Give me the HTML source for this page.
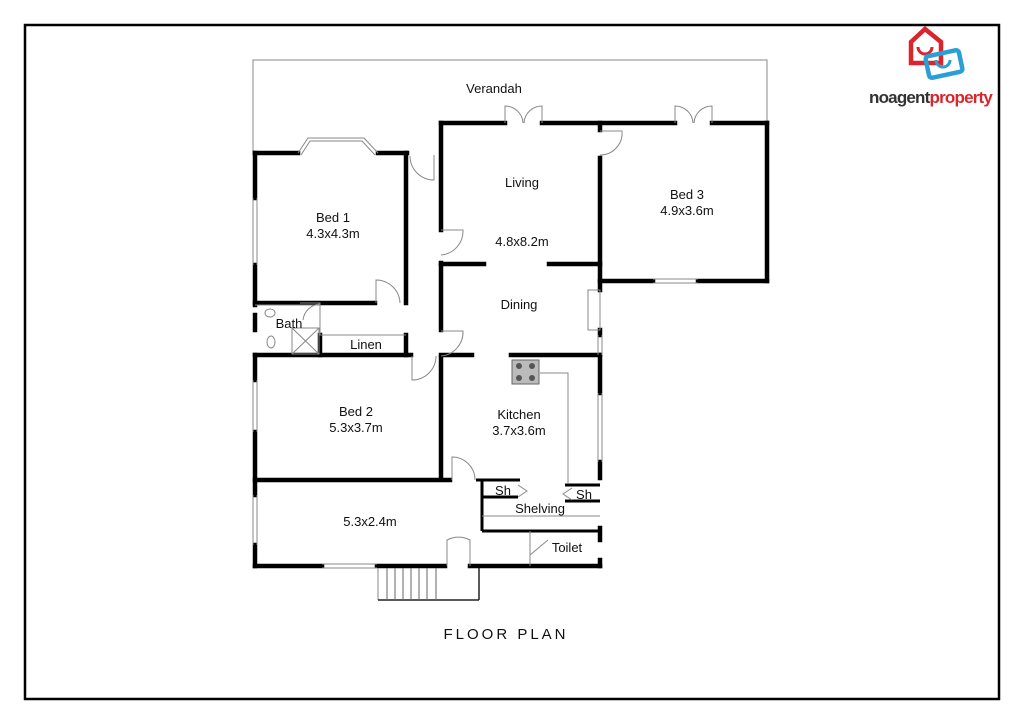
<!DOCTYPE html>
<html><head><style>
body{margin:0;background:#fff;width:1024px;height:724px;overflow:hidden}
svg{display:block}
text{font-family:"Liberation Sans",sans-serif;fill:#111}
</style></head><body>
<svg width="1024" height="724" viewBox="0 0 1024 724">
<rect x="25" y="25" width="974" height="674" fill="none" stroke="#000" stroke-width="2.5"/>
<polyline points="253,155 253,60 767,60 767,122" fill="none" stroke="#888" stroke-width="1"/>
<g stroke="#000" stroke-width="4.5" fill="none" stroke-linecap="square">
<line x1="441" y1="123" x2="505" y2="123"/><line x1="542" y1="123" x2="675" y2="123"/><line x1="712" y1="123" x2="767" y2="123"/>
<line x1="767" y1="123" x2="767" y2="281"/>
<line x1="600" y1="281" x2="653" y2="281"/><line x1="698" y1="281" x2="767" y2="281"/>
<line x1="600" y1="123" x2="600" y2="130"/><line x1="600" y1="158" x2="600" y2="290"/>
<line x1="600" y1="330" x2="600" y2="335"/>
<line x1="600" y1="355" x2="600" y2="393"/><line x1="600" y1="462" x2="600" y2="478"/>
<line x1="600" y1="528" x2="600" y2="540"/><line x1="600" y1="560" x2="600" y2="566"/>
<line x1="441" y1="123" x2="441" y2="230"/><line x1="441" y1="263" x2="441" y2="330"/>
<line x1="441" y1="358" x2="441" y2="478"/>
<line x1="441" y1="264" x2="484" y2="264"/><line x1="549" y1="264" x2="600" y2="264"/>
<line x1="441" y1="355" x2="472" y2="355"/><line x1="511" y1="355" x2="600" y2="355"/>
<line x1="255" y1="153" x2="298" y2="153"/><line x1="378" y1="153" x2="407" y2="153"/>
<line x1="255" y1="153" x2="255" y2="198"/><line x1="255" y1="265" x2="255" y2="305"/>
<line x1="406" y1="153" x2="406" y2="303"/>
<line x1="255" y1="303" x2="375" y2="303"/>
<line x1="320" y1="335" x2="320" y2="355"/><line x1="406" y1="335" x2="406" y2="355"/>
<line x1="255" y1="315" x2="255" y2="330"/>
<line x1="255" y1="355" x2="411" y2="355"/>
<line x1="255" y1="355" x2="255" y2="380"/><line x1="255" y1="432" x2="255" y2="495"/>
<line x1="255" y1="480" x2="450" y2="480"/>
<line x1="255" y1="545" x2="255" y2="566"/>
<line x1="255" y1="566" x2="322" y2="566"/><line x1="377" y1="566" x2="445" y2="566"/><line x1="470" y1="566" x2="600" y2="566"/>
</g>
<g stroke="#000" stroke-width="3" fill="none">
<line x1="476" y1="480" x2="520" y2="480"/>
<line x1="482" y1="480" x2="482" y2="531"/>
<line x1="482" y1="497" x2="518" y2="497"/>
<line x1="482" y1="531" x2="600" y2="531"/>
<line x1="565" y1="485" x2="600" y2="485"/><line x1="565" y1="501" x2="600" y2="501"/>
</g>
<g stroke="#888" stroke-width="1" fill="none">
<polyline points="298,153 308,138 364,138 378,153"/>
<polyline points="301,155 310,141 362,141 375,155"/>
<line x1="253" y1="198" x2="253" y2="265"/><line x1="257" y1="198" x2="257" y2="265"/>
<line x1="253" y1="380" x2="253" y2="432"/><line x1="257" y1="380" x2="257" y2="432"/>
<line x1="253" y1="495" x2="253" y2="545"/><line x1="257" y1="495" x2="257" y2="545"/>
<line x1="322" y1="564" x2="377" y2="564"/><line x1="322" y1="568" x2="377" y2="568"/>
<line x1="653" y1="279" x2="698" y2="279"/><line x1="653" y1="283" x2="698" y2="283"/>
<line x1="598" y1="393" x2="598" y2="462"/><line x1="602" y1="393" x2="602" y2="462"/>
<line x1="598" y1="335" x2="598" y2="355"/><line x1="602" y1="335" x2="602" y2="355"/>
<rect x="588" y="290" width="12" height="40"/>
<path d="M505,123 V106 A18,18 0 0 1 523,123 M542,123 V106 A18,18 0 0 0 524,123"/>
<path d="M675,123 V106 A18,18 0 0 1 693,123 M712,123 V106 A18,18 0 0 0 694,123"/>
<path d="M600,131 H622 A22,22 0 0 1 600,155"/>
<path d="M434,155 V180 A24,24 0 0 1 410,156"/>
<path d="M441,230 H463 A24,24 0 0 1 441,255"/>
<path d="M441,331 H463 A24,24 0 0 1 441,356"/>
<path d="M376,303 V280 A24,24 0 0 1 400,303"/>
<path d="M412,356 V380 A24,24 0 0 0 436,356"/>
<path d="M452,480 V457 A23,23 0 0 1 475,480"/>
<path d="M447,566 V540 A24,24 0 0 1 470,540 V566"/>
<path d="M530,566 V531 M530,555 L548,540"/>
<line x1="255" y1="305" x2="320" y2="305"/>
<path d="M300,303 H320 V335 H406"/>
<path d="M303,320 A18,18 0 0 1 320,304"/>
<rect x="292" y="328" width="27" height="26"/><path d="M292,328 L319,354 M319,328 L292,354"/>
<ellipse cx="270" cy="313" rx="5" ry="4"/><ellipse cx="271" cy="342" rx="4" ry="6"/>
<line x1="482" y1="516" x2="600" y2="516"/>
<polyline points="540,373 568,373 568,484"/>
<path d="M518,485 L527,491 L518,497 M572,488 L563,494 L572,500"/>
<line x1="378" y1="568" x2="378" y2="600"/>
</g>
<rect x="512" y="360" width="27" height="24" fill="#bbb" stroke="#666" stroke-width="1"/>
<circle cx="519" cy="366" r="3" fill="#555"/><circle cx="532" cy="366" r="3" fill="#555"/><circle cx="519" cy="378" r="3" fill="#555"/><circle cx="532" cy="378" r="3" fill="#555"/>
<g stroke="#222" stroke-width="1.5" fill="none">
<line x1="378" y1="600" x2="479" y2="600"/><line x1="479" y1="568" x2="479" y2="600"/>
</g>
<g stroke="#666" stroke-width="1">
<line x1="387" y1="568" x2="387" y2="600"/><line x1="395" y1="568" x2="395" y2="600"/><line x1="403" y1="568" x2="403" y2="600"/><line x1="411" y1="568" x2="411" y2="600"/><line x1="419" y1="568" x2="419" y2="600"/><line x1="427" y1="568" x2="427" y2="600"/><line x1="436" y1="568" x2="436" y2="600"/>
</g>
<g font-size="13" text-anchor="middle">
<text x="494" y="93">Verandah</text>
<text x="522" y="187">Living</text>
<text x="522" y="246">4.8x8.2m</text>
<text x="687" y="199">Bed 3</text><text x="687" y="215">4.9x3.6m</text>
<text x="333" y="222">Bed 1</text><text x="333" y="238">4.3x4.3m</text>
<text x="519" y="309">Dining</text>
<text x="289" y="328">Bath</text>
<text x="366" y="349">Linen</text>
<text x="356" y="416">Bed 2</text><text x="356" y="432">5.3x3.7m</text>
<text x="519" y="419">Kitchen</text><text x="519" y="435">3.7x3.6m</text>
<text x="503" y="495">Sh</text><text x="584" y="499">Sh</text>
<text x="540" y="513">Shelving</text>
<text x="370" y="526">5.3x2.4m</text>
<text x="567" y="552">Toilet</text>
<text x="506" y="639" font-size="15" letter-spacing="3">FLOOR PLAN</text>
</g>
<path d="M911,42 L925,29 L941,42 L941,63 L911,63 Z" fill="none" stroke="#d9252b" stroke-width="4.5"/>
<path d="M918,47 A7,7 0 0 0 932,47" fill="none" stroke="#d9252b" stroke-width="3"/>
<rect x="927" y="53" width="34" height="22" rx="3" transform="rotate(-12 944 64)" fill="none" stroke="#2a9fd6" stroke-width="4.5"/>
<path d="M936,60 A7,7 0 0 0 950,60" fill="none" stroke="#2a9fd6" stroke-width="3"/>
<text x="869" y="103" font-size="17" font-weight="bold" letter-spacing="-0.8" style="fill:#333">noagent<tspan style="fill:#d9252b">property</tspan></text>
</svg>
</body></html>
